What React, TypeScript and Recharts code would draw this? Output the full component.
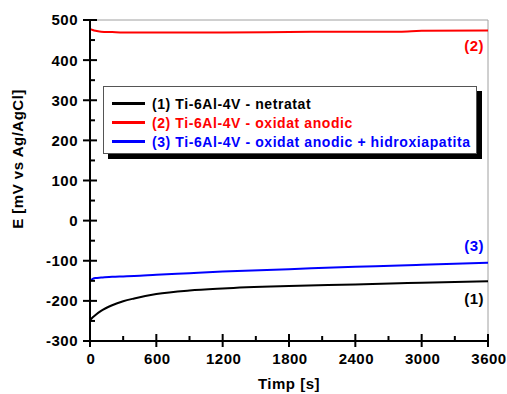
import React from "react";
import {
  LineChart, Line, XAxis, YAxis, Legend, ReferenceLine, Label, LabelList,
} from "recharts";

// Open-circuit potential vs time, sampled along each curve
const timeS = [0, 25, 50, 100, 200, 300, 400, 600, 900, 1200, 1800, 2400, 2800, 3000, 3600];
const untreated = [-248, -241, -235, -225, -211, -201, -194, -183, -174, -169, -163, -159, -156, -155, -151];
const anodized = [478, 475, 473, 471, 470, 469, 469, 469, 469, 469, 470, 471, 471, 473, 474];
const anodizedHa = [-150, -145, -143, -142, -140, -139, -138, -135, -131, -127, -121, -115, -112, -110, -105];

const xTicks = [0, 300, 600, 900, 1200, 1500, 1800, 2100, 2400, 2700, 3000, 3300, 3600];
const yTicks = [-300, -250, -200, -150, -100, -50, 0, 50, 100, 150, 200, 250, 300, 350, 400, 450, 500];

const seriesNames = [
  "(1) Ti-6Al-4V - netratat",
  "(2) Ti-6Al-4V - oxidat anodic",
  "(3) Ti-6Al-4V - oxidat anodic + hidroxiapatita",
];
const endLabels = ["(1)", "(2)", "(3)"];
const colors = ["#000000", "#ff0000", "#0000ff"];

const data = timeS.map((t, i) => ({
  t,
  s1: untreated[i],
  s2: anodized[i],
  s3: anodizedHa[i],
}));

const FONT = "'Liberation Sans', Arial, sans-serif";
const textStyle = { fontSize: 15, fontWeight: "bold", fontFamily: FONT, letterSpacing: 0.5 } as const;

function YTick(props: any) {
  const { x, y, payload } = props;
  const major = payload.value % 100 === 0;
  return (
    <g>
      <line x1={major ? x - 7 : x} x2={major ? x + 7 : x + 5} y1={y} y2={y} stroke="#000" strokeWidth={2} />
      {major && (
        <text x={x - 12} y={y} dy="0.36em" textAnchor="end" style={textStyle} fill="#000">
          {payload.value}
        </text>
      )}
    </g>
  );
}

function XTick(props: any) {
  const { x, y, payload } = props;
  const major = payload.value % 600 === 0;
  return (
    <g>
      <line x1={x} x2={x} y1={major ? y + 6 : y} y2={major ? y - 7 : y - 5} stroke="#000" strokeWidth={2} />
      {major && (
        <text x={x + 1} y={y + 18} dy="0.36em" textAnchor="middle" style={textStyle} fill="#000">
          {payload.value}
        </text>
      )}
    </g>
  );
}

// series tag next to the last point of each curve
function endLabel(idx: number, dy: number) {
  return (props: any) => {
    if (props.index !== timeS.length - 1) return null;
    return (
      <text x={props.x - 4} y={props.y + dy} dy="0.36em" textAnchor="end" style={textStyle}
        fill={colors[idx]}>
        {endLabels[idx]}
      </text>
    );
  };
}

function LegendBox() {
  return (
    <div style={{
      width: 374, height: 68, background: "#fff", border: "1px solid #555",
      boxShadow: "5px 5px 0 #000", fontFamily: FONT, fontWeight: "bold", fontSize: 14,
      letterSpacing: 0.58, padding: "7px 0 0 8px", boxSizing: "border-box", whiteSpace: "nowrap",
    }}>
      {seriesNames.map((n, i) => (
        <div key={n} style={{ display: "flex", alignItems: "center", height: 19, color: colors[i] }}>
          <span style={{ display: "inline-block", width: 33, height: 2.5, background: colors[i], marginRight: 7 }} />
          {n}
        </div>
      ))}
    </div>
  );
}

export default function App() {
  return (
    <div style={{ position: "absolute", left: 0, top: 0, width: 507, height: 394, background: "#fff" }}>
      <LineChart width={507} height={394} data={data} margin={{ top: 20, right: 19, left: 0, bottom: 0 }}>
        <XAxis dataKey="t" type="number" domain={[0, 3600]} ticks={xTicks} interval={0}
          tick={<XTick />} tickLine={false} tickSize={0} tickMargin={0} height={53}
          axisLine={{ stroke: "#000", strokeWidth: 2 }}>
          <Label content={() => (
            <text x={289} y={389} textAnchor="middle" style={textStyle} fill="#000">Timp [s]</text>
          )} />
        </XAxis>
        <YAxis type="number" domain={[-300, 500]} ticks={yTicks} interval={0}
          tick={<YTick />} tickLine={false} tickSize={0} tickMargin={0} width={90}
          axisLine={{ stroke: "#000", strokeWidth: 2 }}>
          <Label content={() => (
            <text x={18} y={159} transform="rotate(-90 18 159)" dy="0.36em" textAnchor="middle"
              style={textStyle} fill="#000">E [mV vs Ag/AgCl]</text>
          )} />
        </YAxis>
        <ReferenceLine y={500} stroke="#a0a0a0" strokeWidth={1} />
        <ReferenceLine x={3600} stroke="#a0a0a0" strokeWidth={1} />
        <Legend layout="vertical" align="center" verticalAlign="middle" content={<LegendBox />}
          wrapperStyle={{ position: "absolute", left: 103, top: 86, width: 380, height: 74 }} />
        <Line dataKey="s1" type="monotone" stroke={colors[0]} strokeWidth={2} dot={false} isAnimationActive={false}>
          <LabelList content={endLabel(0, 17)} />
        </Line>
        <Line dataKey="s2" type="monotone" stroke={colors[1]} strokeWidth={2} dot={false} isAnimationActive={false}>
          <LabelList content={endLabel(1, 15)} />
        </Line>
        <Line dataKey="s3" type="monotone" stroke={colors[2]} strokeWidth={2} dot={false} isAnimationActive={false}>
          <LabelList content={endLabel(2, -17)} />
        </Line>
      </LineChart>
    </div>
  );
}
